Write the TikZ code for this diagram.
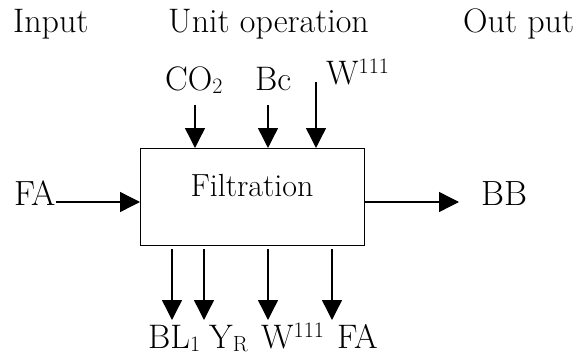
\documentclass[tikz,border=0pt]{standalone}
\usepackage{fontspec}
\usetikzlibrary{arrows.meta}
\newcommand{\lowix}[1]{\raisebox{-0.1em}{\fontsize{22}{22}\selectfont #1}}
\newcommand{\highix}[1]{\raisebox{0.32em}{\fontsize{22}{22}\selectfont #1}}
\tikzset{
  lbl/.style={inner sep=0pt, anchor=base west, font=\fontsize{34}{40}\selectfont},
  tlbl/.style={inner sep=0pt, anchor=base west, font=\fontsize{35}{40}\selectfont},
  flow/.style={line width=1.4pt, -{Triangle[length=20pt,width=20pt]}},
  unitbox/.style={draw, line width=1.4pt, minimum width=224pt, minimum height=97pt, inner sep=0pt, anchor=north west}
}
\begin{document}
\begin{tikzpicture}[x=1pt,y=-1pt]
\useasboundingbox (0,0) rectangle (578,356);
% headers
\node[lbl] (hin) at (13,32) {Input};
\node[lbl] (hunit) at (168,32) {Unit operation};
\node[lbl] (hout) at (463,32) {Out put};
% box
\node[unitbox] (box) at (140,148) {};
\node[inner sep=0pt, anchor=base, font=\fontsize{32}{38}\selectfont] (filt) at (252,196) {Filtration};
% left / right
\node[tlbl] (fain) at (14,205) {FA};
\node[tlbl] (bb) at (481,205) {BB};
\draw[flow] (fain.base east |- 0,202) -- (box.west |- 0,202);
\coordinate (bbend) at (459,202);
\draw[flow] (box.east |- 0,202) -- (bbend);
% top inputs
\node[lbl] (co2) at (165,90) {CO\lowix{2}};
\node[lbl] (bc) at (255,90) {Bc};
\node[lbl] (wtop) at (326,84) {W\highix{111}};
\coordinate (t1) at (195,105);
\coordinate (t2) at (268,105);
\coordinate (t3) at (316,82);
\draw[flow] (t1) -- (t1 |- box.north);
\draw[flow] (t2) -- (t2 |- box.north);
\draw[flow] (t3) -- (t3 |- box.north);
% bottom outputs
\node[lbl] (bl1) at (148,348) {BL\lowix{1}};
\node[lbl] (yr) at (209,348) {Y\lowix{R}};
\node[lbl] (wbot) at (261,348) {W\highix{111}};
\node[lbl] (faout) at (337,348) {FA};
\coordinate (b1) at (172,249);
\coordinate (b2) at (204,249);
\coordinate (b3) at (268,249);
\coordinate (b4) at (332,249);
\coordinate (e1) at (172,320);
\coordinate (e2) at (204,320);
\coordinate (e3) at (268,320);
\coordinate (e4) at (332,320);
\draw[flow] (b1) -- (e1);
\draw[flow] (b2) -- (e2);
\draw[flow] (b3) -- (e3);
\draw[flow] (b4) -- (e4);
\end{tikzpicture}
\end{document}
